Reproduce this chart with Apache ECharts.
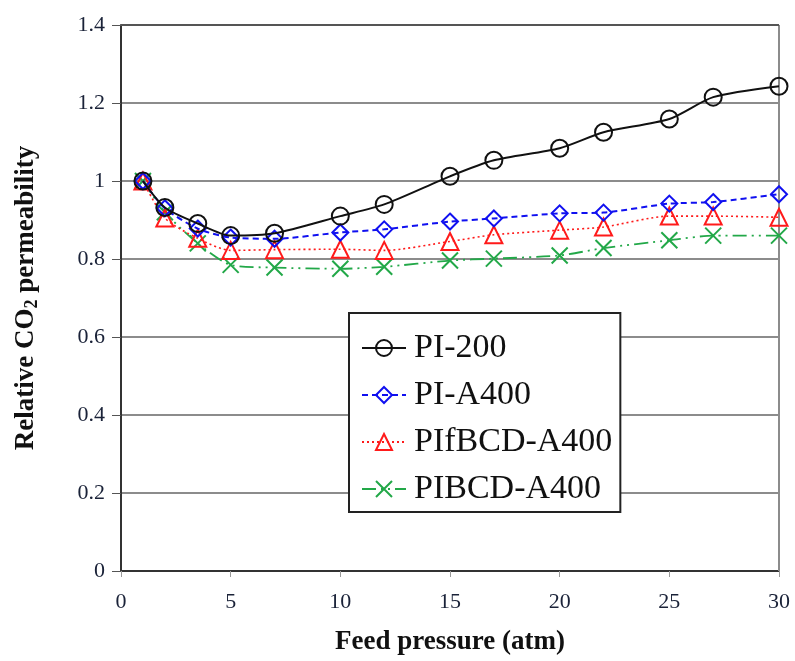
<!DOCTYPE html>
<html>
<head>
<meta charset="utf-8">
<script src="https://cdn.jsdelivr.net/npm/echarts@6/dist/echarts.min.js"></script>
<style>
  html, body { margin: 0; padding: 0; background: #fff; }
  #chart { width: 795px; height: 661px; }
</style>
</head>
<body>
<div id="chart"></div>
<script>
// Feed pressure (atm) at which each permeability was measured
const pressure = [1, 2, 3.5, 5, 7, 10, 12, 15, 17, 20, 22, 25, 27, 30];

// Relative CO2 permeability (P / P at 1 atm) for each membrane
const pi200      = [1.0, 0.932, 0.891, 0.860, 0.866, 0.910, 0.940, 1.012, 1.053, 1.084, 1.125, 1.159, 1.215, 1.243];
const piA400     = [1.0, 0.930, 0.878, 0.855, 0.852, 0.868, 0.876, 0.896, 0.904, 0.917, 0.919, 0.942, 0.946, 0.966];
const pifbcdA400 = [1.0, 0.905, 0.853, 0.822, 0.824, 0.825, 0.822, 0.845, 0.862, 0.874, 0.882, 0.910, 0.910, 0.907];
const pibcdA400  = [1.0, 0.920, 0.840, 0.785, 0.778, 0.775, 0.780, 0.796, 0.801, 0.809, 0.828, 0.848, 0.860, 0.860];

const seriesNames = ['PI-200', 'PI-A400', 'PIfBCD-A400', 'PIBCD-A400'];
const yTicks = [0, 0.2, 0.4, 0.6, 0.8, 1, 1.2, 1.4];
const xTicks = [0, 5, 10, 15, 20, 25, 30];

const pairs = ys => pressure.map((x, i) => [x, ys[i]]);

const SERIF = '"Liberation Serif", "DejaVu Serif", serif';
const crossPath = 'path://M0,0L10,10M10,0L0,10';

const chart = echarts.init(document.getElementById('chart'), null, { renderer: 'canvas' });

function lineSeries(name, data, color, lineType, lineWidth, symbol, symbolSize, z) {
  return {
    name: name,
    type: 'line',
    data: pairs(data),
    smooth: 0.25,
    symbol: symbol,
    symbolSize: symbolSize,
    showAllSymbol: true,
    z: z,
    lineStyle: { color: color, width: lineWidth, type: lineType },
    itemStyle: { color: 'rgba(255,255,255,0)', borderColor: color, borderWidth: 2 },
    emphasis: { disabled: true },
    animation: false
  };
}

chart.setOption({
  backgroundColor: '#fff',
  animation: false,
  grid: { left: 121, right: 16, top: 25, bottom: 90, containLabel: false },
  xAxis: {
    type: 'value',
    min: 0, max: 30, interval: 5,
    name: 'Feed pressure (atm)',
    nameLocation: 'middle',
    nameGap: 58,
    nameTextStyle: { fontFamily: SERIF, fontSize: 27, fontWeight: 'bold', color: '#111' },
    axisLine: { show: true, onZero: false, lineStyle: { color: '#333', width: 2 } },
    axisTick: { show: true, inside: false, length: 6, lineStyle: { color: '#999', width: 1 } },
    axisLabel: {
      fontFamily: SERIF, fontSize: 22, color: '#1a2238', margin: 20,
      formatter: v => (xTicks.includes(v) ? String(v) : '')
    },
    splitLine: { show: false }
  },
  yAxis: {
    type: 'value',
    min: 0, max: 1.4, interval: 0.2,
    name: 'Relative CO{sub|2} permeability',
    nameLocation: 'middle',
    nameGap: 80,
    nameTextStyle: {
      fontFamily: SERIF, fontSize: 27, fontWeight: 'bold', color: '#111',
      rich: { sub: { fontFamily: SERIF, fontSize: 18, fontWeight: 'bold', color: '#111', verticalAlign: 'bottom', padding: [12, 0, 0, 0] } }
    },
    axisLine: { show: true, onZero: false, lineStyle: { color: '#333', width: 2 } },
    axisTick: { show: true, inside: false, length: 9, lineStyle: { color: '#555', width: 1 } },
    axisLabel: {
      fontFamily: SERIF, fontSize: 22, color: '#1a2238', margin: 16,
      formatter: v => {
        const t = yTicks.find(k => Math.abs(k - v) < 1e-9);
        return t === undefined ? '' : String(Math.round(t * 10) / 10);
      }
    },
    splitLine: { show: true, lineStyle: { color: '#8c8c8c', width: 2 } }
  },
  legend: {
    show: true,
    data: seriesNames,
    orient: 'vertical',
    left: 349,
    top: 313,
    padding: [18, 8, 6, 12],
    itemGap: 13,
    itemWidth: 44,
    itemHeight: 20,
    borderColor: '#222',
    borderWidth: 2,
    backgroundColor: '#fff',
    textStyle: { fontFamily: SERIF, fontSize: 34, color: '#111', lineHeight: 34, padding: [0, 0, 0, 3] }
  },
  graphic: [
    {
      // right-hand frame of the plot area
      type: 'line',
      shape: { x1: 779, y1: 25, x2: 779, y2: 571 },
      style: { stroke: '#8c8c8c', lineWidth: 2 },
      z: 1
    },
    {
      // top frame of the plot area
      type: 'line',
      shape: { x1: 121, y1: 25, x2: 779, y2: 25 },
      style: { stroke: '#555', lineWidth: 2 },
      z: 1
    }
  ],
  series: [
    lineSeries('PI-200', pi200, '#111111', 'solid', 2, 'circle', 17, 5),
    lineSeries('PI-A400', piA400, '#1010f0', [6, 4], 2, 'diamond', 16, 4),
    lineSeries('PIfBCD-A400', pifbcdA400, '#ff1a1a', [2, 3], 1.6, 'triangle', 17, 3),
    lineSeries('PIBCD-A400', pibcdA400, '#22a848', [14, 5, 2, 5, 2, 5], 1.8, crossPath, 16, 2)
  ]
});
</script>
</body>
</html>
